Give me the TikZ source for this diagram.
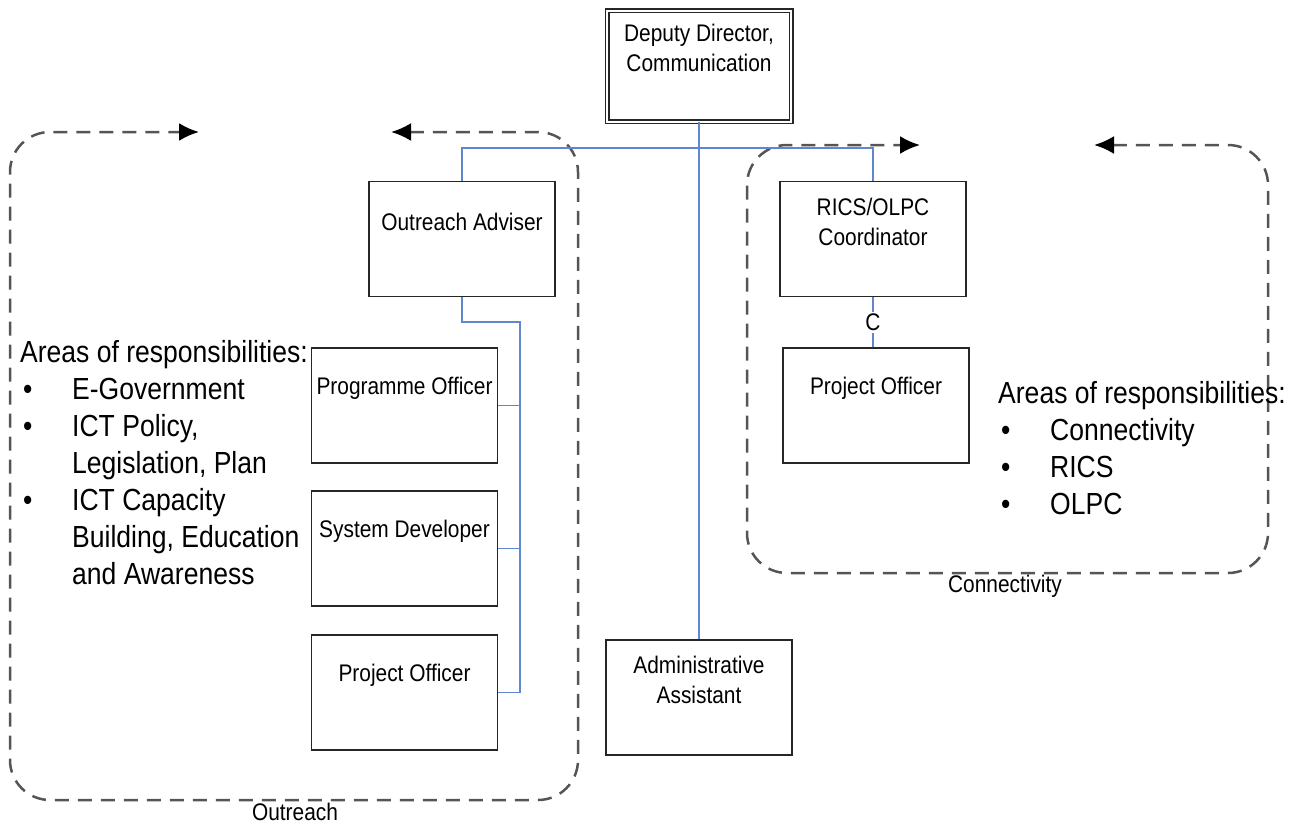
\documentclass[tikz,border=0pt]{standalone}
\usepackage{fontspec}
\setmainfont[FakeStretch=0.87]{Liberation Sans}
\usetikzlibrary{arrows.meta}
\definecolor{orgblue}{RGB}{95,135,205}
\definecolor{zonegray}{RGB}{85,85,85}
\newcommand{\bulitem}[1]{\makebox[52pt][l]{\hspace*{3pt}\textbullet}#1}
\newcommand{\contline}[1]{\hspace*{52pt}#1}

\begin{document}
\begin{tikzpicture}[x=1pt,y=-1pt,
        box/.style={draw=black!85, line width=1.8pt, minimum width=186pt, minimum height=115pt, inner sep=0pt},
        boxtext/.style={anchor=center, yshift=-41pt, align=center, inner sep=0pt, font=\fontsize{24}{30}\selectfont},
        orgline/.style={draw=orgblue, line width=1.5pt},
        zone/.style={draw=zonegray, line width=2.5pt, dash pattern=on 14pt off 9pt, rounded corners=40pt, >={Latex[length=20pt,width=18pt,color=black]}, <->},
        areas/.style={anchor=north west, align=left, inner sep=0pt, font=\fontsize{30.5}{37}\selectfont},
        zonename/.style={font=\fontsize{24}{28}\selectfont}]
        \useasboundingbox (0,0) rectangle (1304,825);

        % dashed zones
        \draw[zone] (391,132) -- (578,132) -- (578,800) -- (10,800) -- (10,132) -- (199,132);
        \draw[zone] (1094,145) -- (1268,145) -- (1268,573) -- (747,573) -- (747,145) -- (920,145);
        \node[zonename] (outname) at (295,812) {Outreach};
        \node[zonename] (conname) at (1005,586) {Connectivity};

        \node[box, double, double distance=2pt, line width=1.5pt, minimum width=184pt, minimum height=111pt,
            label={[boxtext, yshift=2.5pt]north:{Deputy Director,\\Communication}}] (dd) at (699,66) {};
        \node[box, label={[boxtext]north:Outreach Adviser}] (adv) at (462,239) {};
        \node[box, label={[boxtext]north:Programme Officer}] (prog) at (404.5,405.5) {};
        \node[box, label={[boxtext]north:System Developer}] (sysdev) at (404.5,548.5) {};
        \node[box, label={[boxtext]north:Project Officer}] (proj) at (404.5,692.5) {};
        \node[box, label={[boxtext]north:{Administrative\\Assistant}}] (admin) at (699,697.5) {};
        \node[box, label={[boxtext]north:{RICS/OLPC\\Coordinator}}] (rics) at (873,239) {};
        \node[box, label={[boxtext]north:Project Officer}] (po2) at (876,405.5) {};

        \node[areas] (outareas) at (20,340.5) {Areas of responsibilities:\\
            \bulitem{E-Government}\\
            \bulitem{ICT Policy,}\\
            \contline{Legislation, Plan}\\
            \bulitem{ICT Capacity}\\
            \contline{Building, Education}\\
            \contline{and Awareness}};
        \node[areas] (conareas) at (998,381.5) {Areas of responsibilities:\\
            \bulitem{Connectivity}\\
            \bulitem{RICS}\\
            \bulitem{OLPC}};

        \coordinate (bus) at (699,148);
        \coordinate (spine) at (520,322);

        \draw[orgline] (dd.south) -- (admin.north);
        \draw[orgline] (adv.north) |- (bus) -| (rics.north);
        \draw[orgline] (adv.south) |- (spine) |- (proj.east);
        \draw[orgline] (spine) |- (prog.east);
        \draw[orgline] (spine) |- (sysdev.east);
        \draw[orgline] (rics.south) -- node[fill=white, inner sep=2pt, font=\fontsize{24}{28}\selectfont] (c) {C} (rics.south |- po2.north);

    \end{tikzpicture}
\end{document}
